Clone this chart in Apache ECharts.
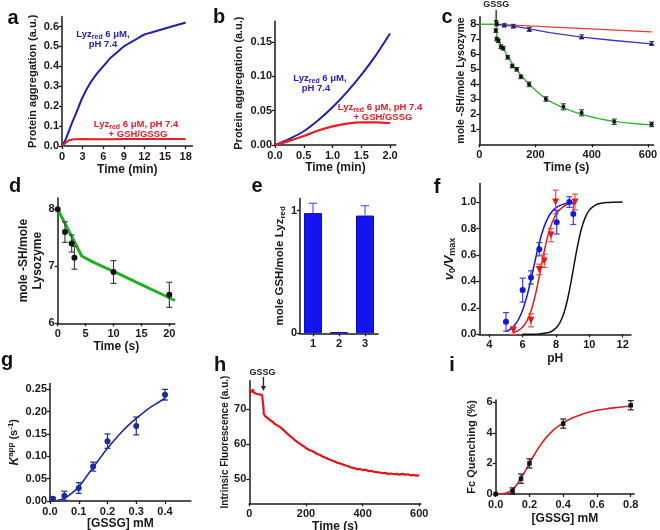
<!DOCTYPE html>
<html><head><meta charset="utf-8">
<script src="https://cdn.jsdelivr.net/npm/echarts@6/dist/echarts.min.js"></script>
<style>html,body{margin:0;padding:0;background:#fff}#c{width:660px;height:530px}</style>
</head><body><div id="c"></div>
<script>
// ---------- data ----------
// a
const aBlueT = [0,0.5,1,1.5,2,3,4,5,6,7,8,9,10,11,12,13,14,15,16,17,18];
const aBlueY = [0,0.03,0.075,0.12,0.16,0.245,0.31,0.36,0.40,0.44,0.47,0.50,0.52,0.54,0.56,0.57,0.58,0.59,0.60,0.61,0.62];
const aRedT = [0,0.5,1,1.5,2,3,6,9,12,15,18];
const aRedY = [0,0.015,0.028,0.033,0.034,0.035,0.034,0.035,0.035,0.035,0.035];
const aXTicks = [0,3,6,9,12,15,18];
const aYTicks = [0,0.1,0.2,0.3,0.4,0.5,0.6];
// b
const bT = [0,0.25,0.5,0.75,1,1.25,1.5,1.75,2];
const bBlue = [0,0.009,0.02,0.036,0.055,0.077,0.102,0.13,0.162];
const bRed = [0,0.006,0.013,0.021,0.027,0.031,0.033,0.033,0.032];
const bXTicks = [0,0.5,1,1.5,2];
const bYTicks = [0,0.05,0.1,0.15];
// c
const cGreenT = [62,59,62,68,77,85,101,117,133,148,177,237,299,364,480,613];
const cGreenY = [8.0,7.58,7.02,6.9,6.5,6.4,5.8,5.22,5.0,4.5,4.0,3.02,2.5,2.1,1.5,1.33];
const cGreenE = [0.1,0.12,0.12,0.12,0.12,0.12,0.12,0.12,0.12,0.12,0.15,0.15,0.2,0.2,0.18,0.15];
const cGreenCurveT = [0,60,61,62,64,67,70,75,80,90,100,110,120,130,140,150,160,170,180,190,200,220,240,260,280,300,320,340,360,380,400,425,450,475,500,525,550,580,613];
const cGreenCurveY = [8.0,8.0,7.5,7.2,7.05,6.95,6.85,6.7,6.55,6.22,5.9,5.6,5.3,5.05,4.8,4.57,4.35,4.15,3.95,3.77,3.6,3.29,3.0,2.78,2.6,2.43,2.28,2.14,2.02,1.91,1.82,1.71,1.62,1.54,1.48,1.43,1.39,1.34,1.3];
const cBlueT = [89,121,178,364,613];
const cBlueY = [7.96,7.89,7.67,7.17,6.73];
const cBlueE = [0.08,0.1,0.12,0.12,0.12];
const cBlueLineT = [62,121,178,250,364,480,613];
const cBlueLineY = [8.0,7.88,7.7,7.45,7.15,6.92,6.7];
const cRedLineT = [62,340,613];
const cRedLineY = [8.0,7.75,7.5];
const cXTicks = [0,200,400,600];
const cYTicks = [1,2,3,4,5,6,7,8];
// d
const dPtT = [0,1.3,2.5,3,10,20];
const dPtY = [8.0,7.6,7.4,7.15,6.9,6.5];
const dPtE = [0,0.18,0.15,0.2,0.2,0.22];
const dLineT = [0,4.3,6,8,10,12,15,18,21];
const dLineY = [8.0,7.18,7.09,7.0,6.91,6.82,6.68,6.54,6.4];
const dXTicks = [0,5,10,15,20];
const dYTicks = [6,7,8];
// e
const eCats = ['1','2','3'];
const eVal = [0.98,0.01,0.96];
const eErr = [0.08,0,0.08];
const eYTicks = [0,1];
// f
const fBlueX = [5.0,6.0,6.5,7.0,8.04,8.8,9.04];
const fBlueY = [0.094,0.334,0.43,0.643,0.848,1.0,0.91];
const fBlueE = [0.07,0.09,0.05,0.05,0.09,0.04,0.08];
const fRedX = [5.44,6.5,7.0,7.3,7.7,7.98,9.14];
const fRedY = [0.03,0.106,0.49,0.555,0.75,1.0,1.0];
const fRedE = [0.03,0.05,0.04,0.05,0.05,0.09,0.06];
const fBlueCurveX = [5.0,5.25,5.5,5.75,6.0,6.25,6.5,6.75,7.0,7.25,7.5,7.75,8.0,8.25,8.5,8.75,9.04];
const fBlueCurveY = [0.022,0.038,0.066,0.112,0.183,0.285,0.415,0.557,0.691,0.799,0.876,0.926,0.957,0.975,0.986,0.992,0.996];
const fRedCurveX = [5.44,5.75,6.0,6.25,6.5,6.75,7.0,7.25,7.5,7.75,8.0,8.25,8.5,8.75,9.14];
const fRedCurveY = [0.013,0.03,0.055,0.1,0.175,0.29,0.44,0.6,0.74,0.84,0.905,0.945,0.97,0.984,0.993];
const fBlackX = [6.0,6.5,7.0,7.5,7.75,8.0,8.25,8.5,8.75,9.0,9.25,9.5,9.75,10.0,10.25,10.5,11.0,11.5,12.0];
const fBlackY = [0.0002,0.0007,0.003,0.011,0.023,0.047,0.091,0.17,0.297,0.464,0.64,0.785,0.882,0.939,0.967,0.985,0.996,0.999,1.0];
const fXTicks = [4,6,8,10,12];
const fYTicks = [0,0.2,0.4,0.6,0.8,1.0];
// g
const gX = [0.01,0.05,0.1,0.15,0.2,0.3,0.4];
const gY = [0.005,0.012,0.029,0.077,0.134,0.168,0.238];
const gE = [0.003,0.01,0.012,0.01,0.016,0.02,0.012];
const gCurveX = [0,0.025,0.05,0.075,0.1,0.125,0.15,0.175,0.2,0.225,0.25,0.275,0.3,0.325,0.35,0.375,0.4];
const gCurveY = [0,0.001,0.006,0.017,0.032,0.053,0.075,0.097,0.118,0.137,0.155,0.171,0.185,0.198,0.21,0.22,0.23];
const gXTicks = [0,0.1,0.2,0.3,0.4];
const gYTicks = [0,0.05,0.1,0.15,0.2,0.25];
// h
const hT = [0,5,10,13,16,20,25,30,35,40,45,49,50,51,55,60,70,80,90,100,110,120,130,140,150,160,170,180,190,200,210,220,230,240,250,260,270,280,290,300,310,320,330,340,350,360,370,380,390,400,410,420,430,440,450,460,470,480,490,500,510,520,530,540,550,560,570,580,590,600];
const hF = [74.6,74.8,75.0,75.6,74.6,74.5,74.3,74.4,74.1,74.2,74.0,74.3,70.5,68.6,68.0,67.8,67.0,66.4,65.7,65.2,64.7,64.0,63.2,62.5,61.8,61.1,60.5,59.9,59.4,58.8,58.3,58.0,57.6,57.1,56.8,56.3,56.0,55.6,55.3,55.0,54.6,54.4,54.1,53.8,53.6,53.2,53.1,52.7,52.8,52.5,52.6,52.2,52.3,52.0,51.9,51.8,51.6,51.7,51.4,51.5,51.3,51.4,51.2,51.4,51.2,51.3,51.0,51.1,50.9,51.0];
const hXTicks = [0,200,400,600];
const hYTicks = [50,60,70];
// i
const iX = [0,0.1,0.15,0.2,0.4,0.8];
const iY = [0,0.2,1.0,2.0,4.6,5.8];
const iE = [0,0.2,0.3,0.3,0.3,0.3];
const iCurveX = [0,0.05,0.075,0.1,0.125,0.15,0.175,0.2,0.225,0.25,0.275,0.3,0.35,0.4,0.45,0.5,0.55,0.6,0.65,0.7,0.75,0.8];
const iCurveY = [0,0.03,0.12,0.3,0.6,1.05,1.5,2.0,2.5,2.95,3.35,3.7,4.25,4.65,4.95,5.17,5.34,5.47,5.56,5.63,5.69,5.73];
const iXTicks = [0,0.2,0.4,0.6,0.8];
const iYTicks = [0,2,4,6];

// ---------- helpers ----------
const FONT = '"Liberation Sans", Arial, sans-serif';
const INK = '#1a1a1a';
const zip = (xs, ys, es) => xs.map((x, k) => es ? [x, ys[k], es[k]] : [x, ys[k]]);
const fmt = d => v => Number(v).toFixed(d);

function axis(kind, grid, min, max, ticks, dec, name, gap, o) {
  o = o || {};
  return {
    type: 'value', gridIndex: grid, min: min, max: max,
    axisLine: {show: true, onZero: false, lineStyle: {color: INK, width: 1.5}},
    axisTick: {show: true, length: 3, customValues: ticks, lineStyle: {color: INK, width: 1.3}},
    axisLabel: {customValues: ticks, formatter: fmt(dec), margin: kind === 'x' ? 5 : 3,
      fontFamily: FONT, fontWeight: 'bold', fontSize: 11, color: INK},
    splitLine: {show: false},
    name: name, nameLocation: 'middle', nameGap: gap,
    nameTextStyle: Object.assign({fontFamily: FONT, fontWeight: 'bold', fontSize: kind === 'x' ? 12 : 11, color: INK}, o.nts || {})
  };
}
function line(i, xs, ys, color, width, smooth, z) {
  return {type: 'line', xAxisIndex: i, yAxisIndex: i, data: zip(xs, ys), symbol: 'none',
    smooth: smooth, lineStyle: {color: color, width: width}, itemStyle: {color: color}, z: z || 2};
}
function scatter(i, xs, ys, symbol, size, color, rot) {
  return {type: 'scatter', xAxisIndex: i, yAxisIndex: i, data: zip(xs, ys), symbol: symbol,
    symbolSize: size, symbolRotate: rot || 0, itemStyle: {color: color, opacity: 1}, z: 5};
}
function err(i, xs, ys, es, color, cap, upOnly) {
  return {type: 'custom', xAxisIndex: i, yAxisIndex: i, data: zip(xs, ys, es), z: 4,
    renderItem: function (params, api) {
      const x = api.value(0), y = api.value(1), e = api.value(2);
      if (!e) return null;
      const top = api.coord([x, y + e]);
      const bot = upOnly ? api.coord([x, y]) : api.coord([x, y - e]);
      const st = {stroke: color, lineWidth: 1.2};
      const ch = [
        {type: 'line', shape: {x1: top[0], y1: top[1], x2: bot[0], y2: bot[1]}, style: st},
        {type: 'line', shape: {x1: top[0] - cap, y1: top[1], x2: top[0] + cap, y2: top[1]}, style: st}
      ];
      if (!upOnly) ch.push({type: 'line', shape: {x1: bot[0] - cap, y1: bot[1], x2: bot[0] + cap, y2: bot[1]}, style: st});
      return {type: 'group', children: ch};
    }};
}

const grids = [
  {left: 62, top: 16.6, width: 130.5, height: 129.4},     // a
  {left: 275, top: 21.2, width: 120.8, height: 123.8},    // b
  {left: 479.3, top: 16.8, width: 174.3, height: 127.5},  // c
  {left: 57.7, top: 197.9, width: 117.2, height: 125.4},  // d
  {left: 300, top: 198.4, width: 78, height: 134.9},      // e
  {left: 479.3, top: 183.5, width: 151.7, height: 150.8}, // f
  {left: 50, top: 383.5, width: 140.9, height: 117.5},    // g
  {left: 249.3, top: 380.8, width: 171.4, height: 122.5}, // h
  {left: 495.7, top: 399.9, width: 138.4, height: 94.1}   // i
].map(g => Object.assign({outerBoundsMode: 'none', containLabel: false}, g));

const richSub = {s: {fontSize: 7, fontWeight: 'bold', fontFamily: FONT, verticalAlign: 'bottom', lineHeight: 9}};

const xAxes = [
  axis('x', 0, 0, 19, aXTicks, 0, 'Time (min)', 18),
  axis('x', 1, 0, 2.1, bXTicks, 1, 'Time (min)', 16),
  axis('x', 2, 0, 620, cXTicks, 0, 'Time (s)', 13),
  axis('x', 3, 0, 21, dXTicks, 0, 'Time (s)', 16),
  {type: 'category', gridIndex: 4, data: eCats,
    axisLine: {show: true, lineStyle: {color: INK, width: 1.5}},
    axisTick: {show: true, length: 3, alignWithLabel: true, lineStyle: {color: INK, width: 1.3}},
    axisLabel: {margin: 5, fontFamily: FONT, fontWeight: 'bold', fontSize: 11, color: INK}},
  axis('x', 5, 3.4, 12.5, fXTicks, 0, 'pH', 18),
  axis('x', 6, 0, 0.49, gXTicks, 1, '[GSSG] mM', 15),
  axis('x', 7, 0, 605, hXTicks, 0, 'Time (s)', 13),
  axis('x', 8, 0, 0.82, iXTicks, 1, '[GSSG] mM', 19)
];
const yAxes = [
  axis('y', 0, 0, 0.65, aYTicks, 1, 'Protein aggregation (a.u.)', 24),
  axis('y', 1, 0, 0.18, bYTicks, 2, 'Protein aggregation (a.u.)', 31),
  axis('y', 2, 0, 8.5, cYTicks, 0, 'mole -SH/mole Lysozyme', 11, {nts: {fontSize: 10.5}}),
  axis('y', 3, 6, 8.2, dYTicks, 0, 'mole -SH/mole\nLysozyme', 10, {nts: {fontSize: 12, lineHeight: 14}}),
  axis('y', 4, 0, 1.1, eYTicks, 0, 'mole GSH/mole Lyz{s|red}', 11, {nts: {fontSize: 11.5, lineHeight: 14, rich: {s: {fontSize: 8, fontWeight: 'bold', fontFamily: FONT, verticalAlign: 'bottom', lineHeight: 10}}}}),
  axis('y', 5, 0, 1.14, fYTicks, 1, '{i|v}{s|0}{i|/V}{s|max}', 18, {nts: {fontSize: 13, lineHeight: 15, rich: {
    i: {fontSize: 13, fontStyle: 'italic', fontWeight: 'bold', fontFamily: FONT},
    s: {fontSize: 9, fontWeight: 'bold', fontFamily: FONT, verticalAlign: 'bottom', lineHeight: 10}}}}),
  axis('y', 6, 0, 0.263, gYTicks, 2, '{i|K}{p|app} (s{p|-1})', 28, {nts: {fontSize: 11, lineHeight: 15, rich: {
    i: {fontSize: 12, fontStyle: 'italic', fontWeight: 'bold', fontFamily: FONT},
    p: {fontSize: 8, fontWeight: 'bold', fontFamily: FONT, verticalAlign: 'top', lineHeight: 9}}}}),
  axis('y', 7, 43, 78, hYTicks, 0, 'Intrinsic Fluorescence (a.u.)', 14, {nts: {fontSize: 10}}),
  axis('y', 8, 0, 6.15, iYTicks, 0, 'Fc Quenching (%)', 18)
];

const BLUE_A = '#1f22a8', RED = '#e61e25', GREEN = '#35b335';
const SM = 0.3;
const series = [
  // a
  line(0, aBlueT, aBlueY, BLUE_A, 2, SM),
  line(0, aRedT, aRedY, RED, 2, SM),
  // b
  line(1, bT, bBlue, BLUE_A, 2, SM),
  line(1, bT, bRed, RED, 2.2, SM),
  // c
  line(2, cRedLineT, cRedLineY, '#e83a3a', 1.3, false),
  line(2, cBlueLineT, cBlueLineY, '#3a3ac8', 1.3, false),
  line(2, cGreenCurveT, cGreenCurveY, GREEN, 1.4, false),
  err(2, cGreenT, cGreenY, cGreenE, '#444', 2.5),
  err(2, cBlueT, cBlueY, cBlueE, '#444', 2.5),
  scatter(2, cGreenT, cGreenY, 'circle', 4, '#111'),
  scatter(2, cBlueT, cBlueY, 'triangle', 5, '#22226a'),
  // d
  line(3, dLineT, dLineY, '#22b022', 3, false),
  err(3, dPtT, dPtY, dPtE, '#444', 3),
  scatter(3, dPtT, dPtY, 'circle', 6, '#111'),
  // e
  {type: 'bar', xAxisIndex: 4, yAxisIndex: 4, data: eVal, barWidth: 18,
    itemStyle: {color: '#1414ee', borderColor: '#0a0ac8', borderWidth: 1}, z: 2},
  err(4, [0, 1, 2], eVal, eErr, '#5a5aff', 4, true),
  // f
  line(5, fBlackX, fBlackY, '#111', 1.5, SM),
  line(5, fRedCurveX, fRedCurveY, '#e41a1a', 1.5, SM),
  line(5, fBlueCurveX, fBlueCurveY, '#1515e0', 1.5, SM),
  err(5, fRedX, fRedY, fRedE, '#ef5050', 3),
  err(5, fBlueX, fBlueY, fBlueE, '#3d3df0', 3),
  scatter(5, fRedX, fRedY, 'triangle', 7, '#e41a1a', 180),
  scatter(5, fBlueX, fBlueY, 'circle', 6, '#1515e0'),
  // g
  line(6, gCurveX, gCurveY, '#1c2a9c', 1.6, SM),
  err(6, gX, gY, gE, '#1c2a9c', 3),
  scatter(6, gX, gY, 'circle', 6, '#1c2a9c'),
  // h
  line(7, hT, hF, '#e01515', 2.2, false),
  // i
  line(8, iCurveX, iCurveY, '#d42222', 1.6, SM),
  err(8, iX, iY, iE, '#222', 3),
  scatter(8, iX, iY, 'rect', 4.5, '#111')
];
series.forEach(s => { s.animation = false; s.silent = true; });

const chart = echarts.init(document.getElementById('c'), null, {renderer: 'canvas'});
chart.setOption({
  backgroundColor: '#ffffff', animation: false,
  textStyle: {fontFamily: FONT},
  grid: grids, xAxis: xAxes, yAxis: yAxes, series: series
});

// annotations
const T = (text, x, y, color, size, extra) => ({type: 'text', silent: true, z: 100,
  style: Object.assign({text: text, x: x, y: y, fill: color, align: 'center', verticalAlign: 'middle',
    fontFamily: FONT, fontWeight: 'bold', fontSize: size, lineHeight: size + 3, rich: richSub}, extra || {})});
const letters = [['a', 13, 18], ['b', 219, 17], ['c', 447, 17], ['d', 15, 186], ['e', 257, 186],
  ['f', 437, 187], ['g', 7, 360], ['h', 220, 365], ['i', 452, 365]];
const graphics = letters.map(l => T(l[0], l[1], l[2], '#111', 20));
const BL = '#2323b4', AF = 9.5;
graphics.push(T('Lyz{s|red} 6 μM,', 103, 34, BL, AF), T('pH 7.4', 103, 44, BL, AF),
  T('Lyz{s|red} 6 μM, pH 7.4', 136, 124, RED, AF), T('+ GSH/GSSG', 138, 134, RED, AF),
  T('Lyz{s|red} 6 μM,', 320, 78, BL, AF), T('pH 7.4', 316, 88, BL, AF),
  T('Lyz{s|red} 6 μM, pH 7.4', 380, 107, RED, AF), T('+ GSH/GSSG', 383, 117, RED, AF));
function arrow(x, y1, y2) {
  return {type: 'group', silent: true, z: 100, children: [
    {type: 'line', shape: {x1: x, y1: y1, x2: x, y2: y2 - 4}, style: {stroke: '#222', lineWidth: 1.3}},
    {type: 'polygon', shape: {points: [[x - 2.5, y2 - 5], [x + 2.5, y2 - 5], [x, y2]]}, style: {fill: '#222'}}
  ]};
}
const cx = chart.convertToPixel({xAxisIndex: 2}, 60);
const hx = chart.convertToPixel({xAxisIndex: 7}, 50);
graphics.push(T('GSSG', cx, 5, '#222', 9), arrow(cx, 10, 25));
graphics.push(T('GSSG', hx - 1, 373, '#222', 9), arrow(hx, 377, 391));
chart.setOption({graphic: graphics});
</script></body></html>
